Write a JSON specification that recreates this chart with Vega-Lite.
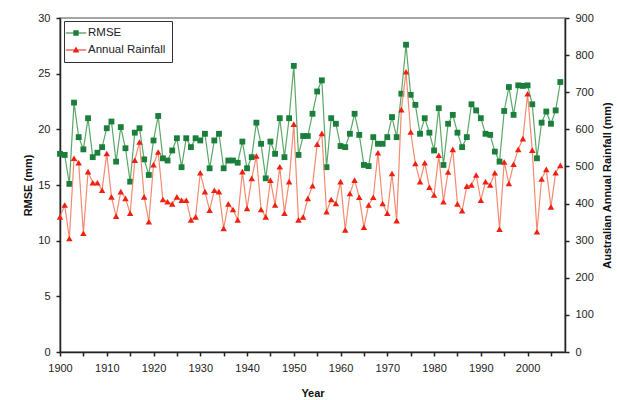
{
  "$schema": "https://vega.github.io/schema/vega-lite/v6.json",
  "width": 505,
  "height": 334,
  "autosize": {"type": "none"},
  "padding": {"left": 60, "top": 18, "right": 52, "bottom": 48},
  "background": "white",
  "config": {
    "font": "Liberation Sans",
    "view": {"stroke": "#888888", "strokeWidth": 1.5},
    "axis": {
      "grid": false,
      "domainColor": "#222222",
      "domainWidth": 1.5,
      "tickColor": "#222222",
      "tickWidth": 1.5,
      "tickSize": 4,
      "labelFont": "Liberation Sans",
      "labelFontSize": 11,
      "labelColor": "#222222",
      "titleFont": "Liberation Sans",
      "titleFontSize": 11,
      "titleFontWeight": "bold",
      "titleColor": "#111111"
    }
  },
  "data": {
    "values": [
      {"year": 1900, "rmse": 17.8, "rain": 364},
      {"year": 1901, "rmse": 17.7, "rain": 396},
      {"year": 1902, "rmse": 15.1, "rain": 306},
      {"year": 1903, "rmse": 22.4, "rain": 522},
      {"year": 1904, "rmse": 19.3, "rain": 510},
      {"year": 1905, "rmse": 18.2, "rain": 320},
      {"year": 1906, "rmse": 21.0, "rain": 486},
      {"year": 1907, "rmse": 17.5, "rain": 456},
      {"year": 1908, "rmse": 17.9, "rain": 456},
      {"year": 1909, "rmse": 18.4, "rain": 436},
      {"year": 1910, "rmse": 20.1, "rain": 535},
      {"year": 1911, "rmse": 20.7, "rain": 418},
      {"year": 1912, "rmse": 17.1, "rain": 366},
      {"year": 1913, "rmse": 20.2, "rain": 432},
      {"year": 1914, "rmse": 18.3, "rain": 414},
      {"year": 1915, "rmse": 15.3, "rain": 374},
      {"year": 1916, "rmse": 19.7, "rain": 517},
      {"year": 1917, "rmse": 20.1, "rain": 566},
      {"year": 1918, "rmse": 17.3, "rain": 418},
      {"year": 1919, "rmse": 15.9, "rain": 351},
      {"year": 1920, "rmse": 19.0, "rain": 505},
      {"year": 1921, "rmse": 21.2, "rain": 539},
      {"year": 1922, "rmse": 17.4, "rain": 411},
      {"year": 1923, "rmse": 17.2, "rain": 405},
      {"year": 1924, "rmse": 18.1, "rain": 399},
      {"year": 1925, "rmse": 19.2, "rain": 418},
      {"year": 1926, "rmse": 16.6, "rain": 409},
      {"year": 1927, "rmse": 19.2, "rain": 409},
      {"year": 1928, "rmse": 18.4, "rain": 356},
      {"year": 1929, "rmse": 19.2, "rain": 364},
      {"year": 1930, "rmse": 19.0, "rain": 483},
      {"year": 1931, "rmse": 19.6, "rain": 432},
      {"year": 1932, "rmse": 16.5, "rain": 382},
      {"year": 1933, "rmse": 19.0, "rain": 436},
      {"year": 1934, "rmse": 19.6, "rain": 432},
      {"year": 1935, "rmse": 16.5, "rain": 333},
      {"year": 1936, "rmse": 17.2, "rain": 399},
      {"year": 1937, "rmse": 17.2, "rain": 384},
      {"year": 1938, "rmse": 17.0, "rain": 356},
      {"year": 1939, "rmse": 18.9, "rain": 486},
      {"year": 1940, "rmse": 16.5, "rain": 387},
      {"year": 1941, "rmse": 17.5, "rain": 468},
      {"year": 1942, "rmse": 20.6, "rain": 528},
      {"year": 1943, "rmse": 18.7, "rain": 384},
      {"year": 1944, "rmse": 15.6, "rain": 364},
      {"year": 1945, "rmse": 18.9, "rain": 463},
      {"year": 1946, "rmse": 17.8, "rain": 396},
      {"year": 1947, "rmse": 21.0, "rain": 499},
      {"year": 1948, "rmse": 17.5, "rain": 374},
      {"year": 1949, "rmse": 21.0, "rain": 459},
      {"year": 1950, "rmse": 25.7, "rain": 614},
      {"year": 1951, "rmse": 17.7, "rain": 356},
      {"year": 1952, "rmse": 19.4, "rain": 364},
      {"year": 1953, "rmse": 19.4, "rain": 414},
      {"year": 1954, "rmse": 21.4, "rain": 448},
      {"year": 1955, "rmse": 23.4, "rain": 560},
      {"year": 1956, "rmse": 24.4, "rain": 589},
      {"year": 1957, "rmse": 16.6, "rain": 378},
      {"year": 1958, "rmse": 21.0, "rain": 411},
      {"year": 1959, "rmse": 20.5, "rain": 400},
      {"year": 1960, "rmse": 18.5, "rain": 459},
      {"year": 1961, "rmse": 18.4, "rain": 329},
      {"year": 1962, "rmse": 19.6, "rain": 427},
      {"year": 1963, "rmse": 21.4, "rain": 463},
      {"year": 1964, "rmse": 19.5, "rain": 417},
      {"year": 1965, "rmse": 16.8, "rain": 336},
      {"year": 1966, "rmse": 16.7, "rain": 396},
      {"year": 1967, "rmse": 19.3, "rain": 417},
      {"year": 1968, "rmse": 18.7, "rain": 537},
      {"year": 1969, "rmse": 18.7, "rain": 400},
      {"year": 1970, "rmse": 19.3, "rain": 374},
      {"year": 1971, "rmse": 21.1, "rain": 481},
      {"year": 1972, "rmse": 19.3, "rain": 354},
      {"year": 1973, "rmse": 23.2, "rain": 653},
      {"year": 1974, "rmse": 27.6, "rain": 755},
      {"year": 1975, "rmse": 23.1, "rain": 593},
      {"year": 1976, "rmse": 22.2, "rain": 508},
      {"year": 1977, "rmse": 19.6, "rain": 459},
      {"year": 1978, "rmse": 21.0, "rain": 510},
      {"year": 1979, "rmse": 19.7, "rain": 444},
      {"year": 1980, "rmse": 18.1, "rain": 423},
      {"year": 1981, "rmse": 21.9, "rain": 530},
      {"year": 1982, "rmse": 16.8, "rain": 405},
      {"year": 1983, "rmse": 20.5, "rain": 485},
      {"year": 1984, "rmse": 21.3, "rain": 546},
      {"year": 1985, "rmse": 19.7, "rain": 399},
      {"year": 1986, "rmse": 18.4, "rain": 381},
      {"year": 1987, "rmse": 19.3, "rain": 447},
      {"year": 1988, "rmse": 22.25, "rain": 450},
      {"year": 1989, "rmse": 21.7, "rain": 477},
      {"year": 1990, "rmse": 21.0, "rain": 409},
      {"year": 1991, "rmse": 19.6, "rain": 459},
      {"year": 1992, "rmse": 19.5, "rain": 450},
      {"year": 1993, "rmse": 18.0, "rain": 483},
      {"year": 1994, "rmse": 17.1, "rain": 331},
      {"year": 1995, "rmse": 21.65, "rain": 512},
      {"year": 1996, "rmse": 23.8, "rain": 454},
      {"year": 1997, "rmse": 21.3, "rain": 506},
      {"year": 1998, "rmse": 23.95, "rain": 546},
      {"year": 1999, "rmse": 23.9, "rain": 575},
      {"year": 2000, "rmse": 23.95, "rain": 696},
      {"year": 2001, "rmse": 22.25, "rain": 544},
      {"year": 2002, "rmse": 17.4, "rain": 324},
      {"year": 2003, "rmse": 20.6, "rain": 466},
      {"year": 2004, "rmse": 21.6, "rain": 492},
      {"year": 2005, "rmse": 20.5, "rain": 391},
      {"year": 2006, "rmse": 21.7, "rain": 483},
      {"year": 2007, "rmse": 24.25, "rain": 503}
    ]
  },
  "encoding": {
    "x": {
      "field": "year",
      "type": "quantitative",
      "scale": {"domain": [1900, 2008], "nice": false, "zero": false},
      "axis": {
        "title": "Year",
        "values": [1900, 1905, 1910, 1915, 1920, 1925, 1930, 1935, 1940, 1945, 1950, 1955, 1960, 1965, 1970, 1975, 1980, 1985, 1990, 1995, 2000, 2005],
        "labelExpr": "datum.value % 10 === 0 ? '' + datum.value : ''",
        "labelPadding": 6,
        "titlePadding": 14,
        "labelFlush": false
      }
    }
  },
  "layer": [
    {
      "encoding": {
        "y": {
          "field": "rmse",
          "type": "quantitative",
          "scale": {"domain": [0, 30], "nice": false},
          "axis": {
            "orient": "left",
            "title": "RMSE (mm)",
            "values": [0, 5, 10, 15, 20, 25, 30],
            "labelPadding": 6,
            "titlePadding": 4
          }
        }
      },
      "layer": [
        {
          "mark": {"type": "line", "color": "#5aa868", "strokeWidth": 1.2}
        },
        {
          "mark": {"type": "point", "shape": "square", "filled": true, "size": 34, "opacity": 1},
          "encoding": {
            "color": {
              "datum": "RMSE",
              "scale": {"domain": ["RMSE", "Annual Rainfall"], "range": ["#1b7f3b", "#ee2010"]},
              "legend": {
                "title": null,
                "orient": "none",
                "legendX": 4,
                "legendY": 3,
                "direction": "vertical",
                "strokeColor": "#333333",
                "fillColor": "white",
                "padding": 6,
                "rowPadding": 5,
                "labelFont": "Liberation Sans",
                "labelFontSize": 11.5,
                "labelColor": "#222222",
                "labelOffset": 6,
                "symbolSize": 144,
                "symbolOpacity": 1,
                "symbolStrokeWidth": 0,
                "encode": {
                  "symbols": {
                    "update": {
                      "shape": {"signal": "datum.value === 'RMSE' ? 'M-1.7,-0.1H1.7V0.1H-1.7Z M-0.45,-0.45H0.45V0.45H-0.45Z' : 'M-1.7,-0.1H1.7V0.1H-1.7Z M0,-0.6L0.55,0.4H-0.55Z'"},
                      "size": {"value": 144},
                      "strokeWidth": {"value": 0}
                    }
                  }
                }
              }
            }
          }
        }
      ]
    },
    {
      "encoding": {
        "y": {
          "field": "rain",
          "type": "quantitative",
          "scale": {"domain": [0, 900], "nice": false},
          "axis": {
            "orient": "right",
            "title": "Australian Annual Rainfall (mm)",
            "titleAngle": 270,
            "values": [0, 100, 200, 300, 400, 500, 600, 700, 800, 900],
            "labelPadding": 6,
            "titlePadding": 19
          }
        }
      },
      "layer": [
        {
          "mark": {"type": "line", "color": "#f58a70", "strokeWidth": 1.2}
        },
        {
          "mark": {"type": "point", "shape": "triangle-up", "filled": true, "size": 42, "opacity": 1},
          "encoding": {
            "color": {"datum": "Annual Rainfall"}
          }
        }
      ]
    }
  ],
  "resolve": {"scale": {"y": "independent"}}
}
